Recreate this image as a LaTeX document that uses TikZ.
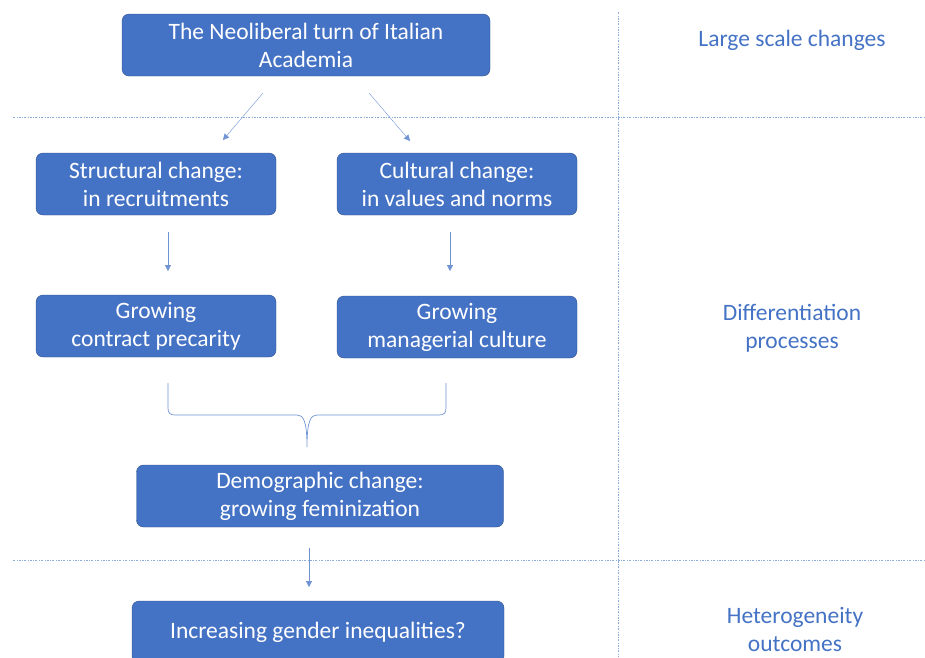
\documentclass[tikz,border=0pt]{standalone}
\usepackage{fontspec}
\setmainfont{Carlito}
\usetikzlibrary{positioning,arrows.meta}
\definecolor{boxblue}{HTML}{4472C4}
\definecolor{boxedge}{HTML}{2F528F}
\definecolor{sepblue}{HTML}{8FAADC}
\definecolor{linkblue}{HTML}{6F93D3}

\begin{document}
\begin{tikzpicture}[x=1pt, y=-1pt,
  font=\fontsize{23.5}{28}\selectfont,
  stage/.style={draw=boxedge, fill=boxblue, text=white, rounded corners=7pt,
    align=center, minimum height=62pt, inner sep=0pt},
  side/.style={text=boxblue, align=center},
  link/.style={draw=linkblue, -{Triangle[length=6pt, width=6pt]}},
  sep/.style={draw=sepblue, line width=0.7pt,
    dash pattern=on 2pt off 1.5pt on 0.6pt off 1.5pt}]
  \useasboundingbox (0,0) rectangle (925,657);
  \clip (0,0) rectangle (925,657);
  % separators
  \draw[sep] (13,117) -- (925,117);
  \draw[sep] (13,560) -- (925,560);
  \draw[sep] (618,12) -- (618,657);
  % boxes
  \node (neolib) [stage, minimum width=368pt] at (306,45) {The Neoliberal turn of Italian\\Academia};
  \node (struct) [stage, minimum width=240pt] at (156,184) {Structural change:\\in recruitments};
  \node (cult) [stage, minimum width=240pt] at (457,184) {Cultural change:\\in values and norms};
  \node (precar) [stage, minimum width=240pt] at (156,326) {Growing\\contract precarity};
  \node (manag) [stage, minimum width=240pt] at (457,327) {Growing\\managerial culture};
  \node (demog) [stage, minimum width=367pt] at (320,496) {Demographic change:\\growing feminization};
  \node (gender) [stage, minimum width=372pt] at (318,632) {Increasing gender inequalities?};
  % side labels
  \node (large) [side] at (792,40) {Large scale changes};
  \node (diff) [side] at (792,328) {Differentiation\\processes};
  \node (hetero) [side] at (795,629) {Heterogeneity\\outcomes};
  % connectors
  \coordinate (a1) at (263,93); \coordinate (a2) at (223,140);
  \coordinate (b1) at (369,93); \coordinate (b2) at (410,141);
  \draw[link] (a1) -- (a2);
  \draw[link] (b1) -- (b2);
  \coordinate (c1) at (168,232); \coordinate (c2) at (168,271);
  \coordinate (d1) at (450,232); \coordinate (d2) at (450,271);
  \draw[link] (c1) -- (c2);
  \draw[link] (d1) -- (d2);
  \coordinate (e1) at (309,548); \coordinate (e2) at (309,587);
  \draw[link] (e1) -- (e2);
  % brace
  \coordinate (brl) at (168,383); \coordinate (brr) at (446,383);
  \coordinate (brtip) at (307,447);
  \draw[linkblue, line width=0.7pt] (brl) -- (168,408) .. controls (168,413) and (170,415) .. (175,415)
    -- (297,415) .. controls (303,415) and (307,420) .. (brtip)
    .. controls (307,420) and (311,415) .. (317,415)
    -- (439,415) .. controls (444,415) and (446,413) .. (446,408) -- (brr);
\end{tikzpicture}
\end{document}
